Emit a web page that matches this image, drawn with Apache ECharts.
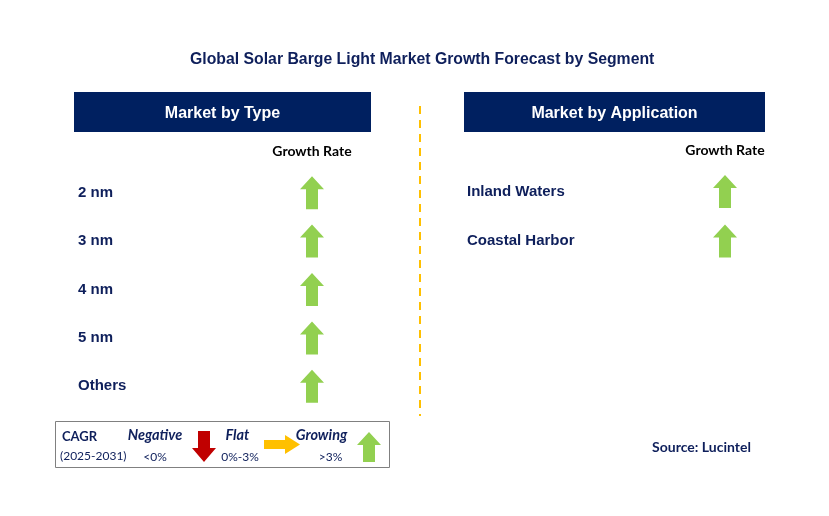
<!DOCTYPE html>
<html>
<head>
<meta charset="utf-8">
<script src="https://cdn.jsdelivr.net/npm/echarts@6/dist/echarts.min.js"></script>
<style>html,body{margin:0;padding:0;background:#fff}#c{width:829px;height:516px}</style>
</head>
<body>
<div id="c"></div>
<script>
// ---- data ----
var chartTitle = 'Global Solar Barge Light Market Growth Forecast by Segment';
var typeHeader = 'Market by Type';
var appHeader = 'Market by Application';
var columnLabel = ['Growth Rate'];
var typeCategories = ['2 nm', '3 nm', '4 nm', '5 nm', 'Others'];
var typeGrowth = ['Growing', 'Growing', 'Growing', 'Growing', 'Growing'];
var appCategories = ['Inland Waters', 'Coastal Harbor'];
var appGrowth = ['Growing', 'Growing'];
var legendLevels = ['Negative', 'Flat', 'Growing'];
var legendRanges = ['<0%', '0%-3%', '>3%'];
var sourceText = 'Source: Lucintel';

var NAVY = '#002060';
var TXT = '#0e1f5b';
var upPath = 'path://M12,0 L24,13 L18,13 L18,33 L6,33 L6,13 L0,13 Z';
var downPath = 'path://M6,0 L18,0 L18,20 L24,20 L12,33 L0,20 L6,20 Z';
var rightPath = 'path://M0,6 L20,6 L20,0 L35,9 L20,18 L20,12 L0,12 Z';
var styleFor = {
  Growing: { symbol: upPath, color: '#92d050', size: [24, 33] },
  Flat: { symbol: rightPath, color: '#ffc000', size: [35, 18] },
  Negative: { symbol: downPath, color: '#c00000', size: [24, 33] }
};
function toPoints(cats, growth) {
  return cats.map(function (c, i) {
    var s = styleFor[growth[i]];
    return { value: [columnLabel[0], c], symbol: s.symbol, symbolSize: s.size, itemStyle: { color: s.color, opacity: 1 } };
  });
}

var chart = echarts.init(document.getElementById('c'), null, { renderer: 'canvas' });
var labelFont = { color: TXT, fontFamily: 'Liberation Sans, Arial', fontWeight: 'bold', fontSize: 15 };

chart.setOption({
  backgroundColor: '#fff',
  animation: false,
  title: {
    text: chartTitle, left: 185, top: 47,
    textStyle: { color: TXT, fontFamily: 'Liberation Sans, Arial', fontWeight: 'bold', fontSize: 15.8 }
  },
  grid: [
    { left: 288, width: 48, top: 168.5, height: 242 },
    { left: 701, width: 48, top: 166.75, height: 99 }
  ],
  xAxis: [0, 1].map(function (i) {
    return {
      gridIndex: i, type: 'category', data: columnLabel, position: 'top',
      axisLine: { show: false }, axisTick: { show: false }, splitLine: { show: false },
      axisLabel: { margin: i === 0 ? 10 : 9, color: '#000', fontFamily: 'Lato', fontWeight: 'bold', fontSize: 14 }
    };
  }),
  yAxis: [
    {
      gridIndex: 0, type: 'category', data: typeCategories, inverse: true,
      axisLine: { show: false }, axisTick: { show: false }, splitLine: { show: false },
      axisLabel: Object.assign({ align: 'left', margin: 210 }, labelFont)
    },
    {
      gridIndex: 1, type: 'category', data: appCategories, inverse: true,
      axisLine: { show: false }, axisTick: { show: false }, splitLine: { show: false },
      axisLabel: Object.assign({ align: 'left', margin: 234 }, labelFont)
    }
  ],
  series: [
    { type: 'scatter', xAxisIndex: 0, yAxisIndex: 0, data: toPoints(typeCategories, typeGrowth), silent: true },
    { type: 'scatter', xAxisIndex: 1, yAxisIndex: 1, data: toPoints(appCategories, appGrowth), silent: true }
  ],
  graphic: [
    { type: 'rect', shape: { x: 74, y: 92, width: 297, height: 40 }, style: { fill: NAVY } },
    { type: 'text', x: 222.5, y: 114, style: { text: typeHeader, fill: '#fff', font: 'bold 16px "Liberation Sans", Arial', align: 'center', verticalAlign: 'middle' } },
    { type: 'rect', shape: { x: 464, y: 92, width: 301, height: 40 }, style: { fill: NAVY } },
    { type: 'text', x: 614.5, y: 114, style: { text: appHeader, fill: '#fff', font: 'bold 16px "Liberation Sans", Arial', align: 'center', verticalAlign: 'middle' } },
    { type: 'line', shape: { x1: 420, y1: 106, x2: 420, y2: 416 }, style: { stroke: '#ffc000', lineWidth: 2, lineDash: [8, 6] } },
    // legend box
    { type: 'rect', shape: { x: 55.5, y: 421.5, width: 334, height: 46 }, style: { fill: '#fff', stroke: '#808080', lineWidth: 1 } },
    { type: 'text', x: 62, y: 437, style: { text: 'CAGR', fill: TXT, font: 'bold 13px Lato', verticalAlign: 'middle' } },
    { type: 'text', x: 60, y: 456, style: { text: '(2025-2031)', fill: TXT, font: '12px Lato', verticalAlign: 'middle' } },
    { type: 'text', x: 155, y: 435, style: { text: legendLevels[0], fill: TXT, font: 'italic bold 14.5px Lato', align: 'center', verticalAlign: 'middle' } },
    { type: 'text', x: 155, y: 457, style: { text: legendRanges[0], fill: TXT, font: '12px Lato', align: 'center', verticalAlign: 'middle' } },
    { type: 'polygon', shape: { points: [[198, 431], [210, 431], [210, 448], [216, 448], [204, 462], [192, 448], [198, 448]] }, style: { fill: styleFor.Negative.color } },
    { type: 'text', x: 237.5, y: 435, style: { text: legendLevels[1], fill: TXT, font: 'italic bold 14.5px Lato', align: 'center', verticalAlign: 'middle' } },
    { type: 'text', x: 240, y: 457, style: { text: legendRanges[1], fill: TXT, font: '12px Lato', align: 'center', verticalAlign: 'middle' } },
    { type: 'polygon', shape: { points: [[264, 440], [285, 440], [285, 435], [300, 444.5], [285, 454], [285, 449], [264, 449]] }, style: { fill: styleFor.Flat.color } },
    { type: 'text', x: 321.5, y: 435, style: { text: legendLevels[2], fill: TXT, font: 'italic bold 14.5px Lato', align: 'center', verticalAlign: 'middle' } },
    { type: 'text', x: 330.5, y: 457, style: { text: legendRanges[2], fill: TXT, font: '12px Lato', align: 'center', verticalAlign: 'middle' } },
    { type: 'polygon', shape: { points: [[369, 432], [381, 445], [375, 445], [375, 462], [363, 462], [363, 445], [357, 445]] }, style: { fill: styleFor.Growing.color } },
    { type: 'text', x: 701.5, y: 447, style: { text: sourceText, fill: TXT, font: 'bold 14px Lato', align: 'center', verticalAlign: 'middle' } }
  ]
});
</script>
</body>
</html>
